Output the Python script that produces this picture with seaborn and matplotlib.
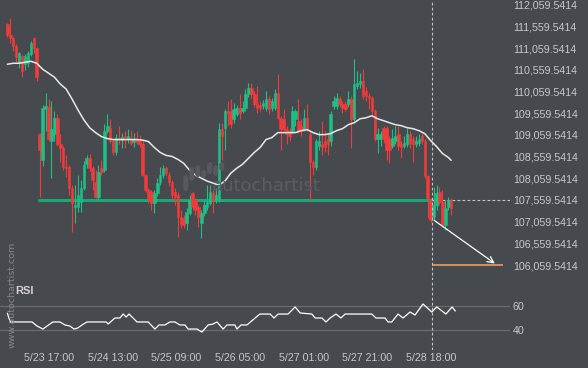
import numpy as np
import pandas as pd
import seaborn as sns
import matplotlib
matplotlib.use("Agg")
import matplotlib.pyplot as plt
from matplotlib.patches import FancyBboxPatch

# hourly candles
opens = [111623, 111372, 111281, 111098, 110710, 110870, 110687, 110710, 110916, 111281,
         111052, 109089, 108473, 109660, 109705, 108929, 109089, 109454, 108861, 108747,
         108313, 108313, 107834, 107400, 107400, 107514, 107834, 108382, 108519, 108290,
         107971, 107628, 108290, 108245, 109158, 109226, 108929, 108655, 108998, 108952,
         109043, 108975, 108998, 108906, 108952, 108929, 108861, 108131, 107788, 107742,
         107491, 107719, 107971, 108131, 108290, 108131, 107971, 107742, 107674, 107171,
         107148, 107034, 107263, 107719, 107560, 107400, 107034, 107263, 107400, 107491,
         107719, 107560, 107560, 109203, 109226, 109614, 109614, 109431, 109546, 109683,
         109614, 109683, 110002, 110139, 110002, 109774, 109751, 109728, 109683, 109888,
         109683, 109683, 110025, 109454, 109431, 109203, 109158, 109158, 109431, 109386,
         109272, 109203, 109454, 109089, 108427, 108313, 108815, 108861, 108929, 108975,
         108929, 109728, 109728, 109888, 109774, 109774, 109774, 109888, 109431, 110185,
         110231, 110299, 110071, 109957, 109911, 109614, 108975, 108975, 109226, 109226,
         108975, 108815, 108929, 109089, 108861, 108815, 108861, 109089, 108975, 108861,
         108884, 109043, 108929, 108108, 107560, 107171, 107446, 107742, 107514, 106989,
         107400, 107560]
highs = [111646, 111760, 111304, 111144, 110961, 110893, 110916, 110984, 111212, 111326,
         111075, 109100, 109751, 110025, 109888, 109842, 109614, 109546, 109089, 108815,
         108587, 108359, 107902, 107902, 108131, 108016, 108450, 108587, 108610, 108336,
         108245, 108359, 108473, 109317, 109546, 109431, 108975, 109089, 109272, 109112,
         109158, 109203, 109180, 109112, 109158, 109066, 108929, 108153, 107834, 107788,
         107788, 108062, 108313, 108359, 108336, 108199, 108016, 107834, 107742, 107331,
         107217, 107377, 107674, 107742, 107605, 107446, 107331, 107560, 107902, 107902,
         107788, 107834, 109340, 109340, 109660, 109842, 109888, 109797, 109751, 110002,
         109842, 110116, 110253, 110253, 110071, 110185, 109842, 109865, 110071, 109957,
         109911, 110116, 110459, 109500, 109660, 109272, 109226, 109728, 109660, 109888,
         109431, 109660, 109774, 109158, 108473, 108975, 109158, 109386, 109158, 109112,
         109614, 109957, 110025, 109957, 109842, 109842, 110071, 109957, 110801, 110527,
         110482, 110573, 110162, 110025, 109957, 109660, 109226, 109158, 109272, 109272,
         109043, 109203, 109272, 109272, 108929, 109043, 109226, 109158, 109043, 109043,
         109089, 109112, 108975, 108131, 107605, 107857, 107902, 107857, 107788, 107560,
         107628, 107605]
lows = [111326, 111167, 110984, 110710, 110596, 110390, 110550, 110619, 110870, 110938,
        110299, 107628, 108336, 109158, 108929, 108062, 108929, 108815, 108427, 108245,
        108085, 107674, 106829, 107034, 107286, 107286, 107788, 108290, 108222, 107788,
        107605, 107560, 108131, 108199, 109112, 108884, 108587, 108587, 108861, 108747,
        108747, 108884, 108838, 108792, 108861, 108792, 108108, 107742, 107491, 107331,
        107263, 107651, 107902, 108062, 108108, 107880, 107560, 107446, 106715, 106920,
        106920, 106875, 107217, 107331, 107217, 106943, 106692, 107194, 107331, 107446,
        107263, 107491, 107514, 108473, 108701, 109272, 109226, 109340, 109500, 109431,
        109568, 109614, 109934, 109911, 109705, 109568, 109614, 109660, 109614, 109546,
        109614, 109637, 109431, 108701, 109158, 108861, 108929, 109112, 109272, 109112,
        109043, 109158, 109158, 107560, 108131, 108245, 108701, 108587, 108655, 108587,
        108815, 109660, 109660, 109705, 109568, 109614, 109705, 108747, 109386, 110116,
        110139, 109888, 109842, 109660, 109546, 108929, 108633, 108815, 108884, 108473,
        108404, 108747, 108861, 108701, 108519, 108747, 108792, 108747, 108427, 108792,
        108815, 108861, 108062, 107148, 107057, 107103, 107331, 107446, 106943, 106875,
        107331, 107217]
closes = [111372, 111281, 111098, 110847, 110938, 110527, 110870, 110938, 111167, 111052,
          110390, 108701, 109683, 109728, 108975, 109203, 109454, 108861, 108747, 108313,
          108290, 107834, 107491, 107446, 107674, 107834, 108359, 108519, 108290, 108016,
          107628, 108199, 108199, 109158, 109272, 108929, 108655, 108998, 108952, 109021,
          108975, 109043, 108884, 108975, 108906, 108861, 108131, 107788, 107560, 107491,
          107719, 107948, 108131, 108290, 108176, 107971, 107674, 107628, 107171, 107012,
          106989, 107286, 107560, 107400, 107331, 107171, 107263, 107446, 107514, 107742,
          107560, 107674, 109203, 109043, 109614, 109568, 109317, 109660, 109683, 109568,
          109683, 110002, 110139, 110002, 109774, 109683, 109683, 109797, 109888, 109660,
          109842, 110025, 109454, 109203, 109203, 109089, 109043, 109614, 109614, 109158,
          109158, 109454, 109203, 108427, 108313, 108929, 108929, 108770, 108770, 108861,
          109546, 109842, 109911, 109774, 109683, 109660, 109888, 109431, 110231, 110253,
          110299, 109957, 109957, 109911, 109614, 108975, 109089, 109089, 108975, 108701,
          108701, 108998, 109043, 108815, 108770, 108884, 109089, 108861, 108861, 108929,
          108975, 108929, 108108, 107605, 107103, 107446, 107719, 107514, 106989, 107377,
          107560, 107377]

# moving average (white line), every second candle
ma_idx = list(range(0, 151, 2)) + [151]
ma_val = [110687, 110710, 110710, 110733, 110756, 110710, 110573, 110482, 110390, 110231,
          110116, 109888, 109637, 109409, 109226, 109112, 109021, 108975, 108952, 108952,
          108952, 108952, 108952, 108940, 108906, 108770, 108655, 108587, 108564, 108496,
          108404, 108245, 108131, 108062, 107994, 107948, 107902, 107994, 108176, 108290,
          108382, 108519, 108655, 108770, 108952, 108998, 109112, 109112, 109112, 109112,
          109158, 109180, 109112, 109066, 109066, 109089, 109158, 109203, 109295, 109340,
          109431, 109454, 109500, 109431, 109386, 109340, 109295, 109272, 109226, 109203,
          109158, 109089, 108929, 108792, 108633, 108541, 108473]

# RSI line
rsi_idx = [0, 1, 8.4, 10.1, 12.1, 13.5, 15.5, 17.9, 19.6, 21.3, 22.7, 24, 25.4, 27.1, 33.6,
           34.3, 36.6, 38.3, 39.4, 40.4, 41.4, 44.1, 47.9, 50.2, 51.6, 53.6, 55.3, 57, 58.7,
           60.4, 61.5, 64.5, 66.2, 68.3, 70, 71.3, 73.4, 74.7, 77.4, 78.1, 79.5, 81.5, 84.3,
           85.9, 89.4, 90.7, 92.1, 95.5, 97.9, 99.6, 103.6, 104.7, 107, 108.4, 109.8, 111.8,
           113.5, 114.9, 124, 125.4, 128.5, 129.5, 130.8, 132.9, 134.6, 137, 138.7, 141.4,
           144.4, 146.1, 149.2, 151.3, 152.4]
rsi_val = [54, 46.7, 46.7, 43.3, 40.8, 43.3, 46.7, 46.7, 44.2, 43.3, 40.8, 41.7, 44.2, 46.7,
           46.7, 45, 50, 50, 53.3, 50.8, 53.3, 46.7, 46.7, 40.8, 44.2, 44.2, 46.7, 46.7, 44.2,
           44.2, 40.8, 40.8, 38.3, 44.2, 45, 46.7, 40.8, 44.2, 44.2, 40.8, 44.2, 44.2, 50,
           53.3, 53.3, 50, 53.3, 53.3, 59.2, 54.2, 53.3, 50, 50, 46.7, 50, 53.3, 50, 53.3,
           53.3, 50, 50, 46.7, 46.7, 53.3, 50, 55, 52.5, 61.7, 55, 59.2, 53.3, 59.2, 55.8]

time_labels = ["5/23 17:00", "5/24 13:00", "5/25 09:00", "5/26 05:00",
               "5/27 01:00", "5/27 21:00", "5/28 18:00"]
tick_idx = [14.2, 36.0, 57.4, 79.3, 101.0, 122.4, 144.1]

support_level = 107559.5414
target_level = 106059.5414
arrow_start_price = 107130
support_start_idx = 10.6
signal_idx = 144.4
arrow_end_idx = 166.6
target_end_idx = 168.6
price_ticks = [106059.5414 + 500 * k for k in range(13)]

BG = "#46494e"
GREEN = "#1fbf86"
RED = "#f23b3b"
TXT = "#c6c8ca"

sns.set_style("dark", {"axes.facecolor": BG, "figure.facecolor": BG})
plt.rcParams["font.family"] = ["Liberation Sans", "DejaVu Sans"]

W, H = 588, 368
fig = plt.figure(figsize=(W / 100, H / 100), dpi=100)
ax = fig.add_axes([0, 1 - 280 / H, 510 / W, 280 / H])
rx = fig.add_axes([0, 1 - 350 / H, 510 / W, 70 / H], sharex=ax)

df = pd.DataFrame({"open": opens, "high": highs, "low": lows, "close": closes})
df["idx"] = np.arange(len(df))
colors = np.where(df["close"] >= df["open"], GREEN, RED)
ax.vlines(df["idx"], df["low"], df["high"], colors=colors, lw=0.8, zorder=3)
ax.bar(df["idx"], (df["close"] - df["open"]).abs(), bottom=df[["open", "close"]].min(axis=1),
       width=0.85, color=colors, edgecolor=colors, linewidth=0.4, zorder=4)

sns.lineplot(x=ma_idx, y=ma_val, ax=ax, color="#e8e8e8", lw=1.1, zorder=5)

# support line, signal marker and forecast
ax.plot([support_start_idx, signal_idx], [support_level, support_level], color="#1aa877", lw=2.2, zorder=2)
ax.set_xlim(-2.5, 171)
ax.hlines(support_level, signal_idx, ax.get_xlim()[1], color="#c8c8c8", lw=0.8, linestyles=(0, (2.5, 2)))
ax.hlines(target_level, signal_idx, target_end_idx, color="#ee9a5f", lw=1.2, zorder=5)
ax.annotate("", xy=(arrow_end_idx, target_level), xytext=(signal_idx, arrow_start_price),
            arrowprops=dict(arrowstyle="->", color="white", lw=0.9, mutation_scale=11), zorder=6)
for a in (ax, rx):
    a.axvline(signal_idx, color="#c8c8c8", lw=0.8, ls=(0, (2.5, 2)), zorder=6)

ax.set_ylim(105716.3, 112167.5)
ax.yaxis.tick_right()
ax.set_yticks(price_ticks)
ax.set_yticklabels([f"{v:,.4f}" for v in price_ticks])
ax.tick_params(axis="y", length=0, pad=2, labelsize=7.7, labelcolor=TXT)
ax.tick_params(axis="x", bottom=False, labelbottom=False)

# RSI panel
sns.lineplot(x=rsi_idx, y=rsi_val, ax=rx, color="white", lw=0.9, zorder=5)
rx.axhline(60, color="#676a6e", lw=0.9, zorder=1)
rx.axhline(40, color="#676a6e", lw=0.9, zorder=1)
rx.set_ylim(23.33, 81.67)
rx.yaxis.tick_right()
rx.set_yticks([40, 60])
rx.set_yticklabels(["40", "60"])
rx.set_xticks(tick_idx)
rx.set_xticklabels(time_labels)
rx.tick_params(axis="y", length=0, pad=2, labelsize=7.7, labelcolor=TXT)
rx.tick_params(axis="x", length=0, pad=2, labelsize=7.7, labelcolor=TXT)
rx.text(0.03, 0.84, "RSI", transform=rx.transAxes, color="#d4d4d4", fontsize=8,
        fontweight="bold", va="center", ha="left")

for a in (ax, rx):
    a.grid(False)
    a.set_xlabel("")
    a.set_ylabel("")
    for s in a.spines.values():
        s.set_visible(False)

# watermarks
fig.text(12 / W, 1 - 348 / H, "www.autochartist.com", rotation=90, color="#85888b",
         fontsize=6.8, ha="center", va="bottom", family="DejaVu Sans")
fig.text(212 / W, 1 - 191 / H, "autochartist", color="#5a5d61", fontsize=13,
         ha="left", va="baseline", family="DejaVu Sans")
for px, top, h in [(184, 176, 14), (190, 168, 12), (196, 166, 10), (202, 171, 6),
                   (208, 163, 10), (214, 166, 9), (220, 163, 7)]:
    fig.patches.append(FancyBboxPatch((px / W, 1 - (top + h) / H), 3.5 / W, h / H,
                                      boxstyle="round,pad=0,rounding_size=0.004",
                                      transform=fig.transFigure, color="#57595d", zorder=0))

fig.savefig("out.png", dpi=100, facecolor=BG)
